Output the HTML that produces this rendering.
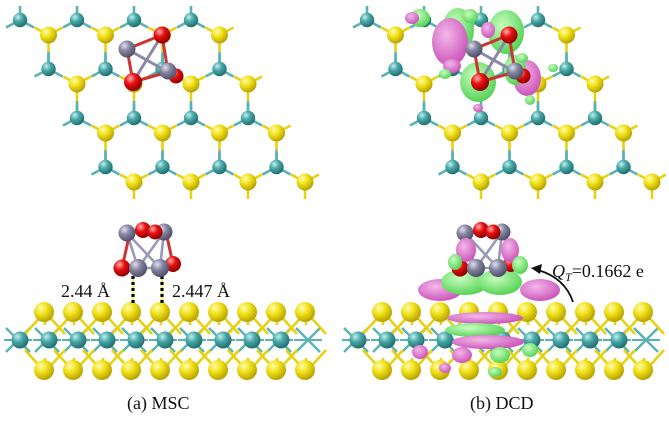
<!DOCTYPE html>
<html><head><meta charset="utf-8"><style>
html,body{margin:0;padding:0;background:#fff;}
svg{display:block;}
text{font-family:"Liberation Serif",serif;fill:#111;}
</style></head><body>
<svg id="s" width="669" height="422" viewBox="0 0 669 422" xmlns="http://www.w3.org/2000/svg">
<defs>
<radialGradient id="gy" cx="35%" cy="30%" r="70%"><stop offset="0" stop-color="#fffbb0"/><stop offset="0.45" stop-color="#f2e21a"/><stop offset="1" stop-color="#b9a400"/></radialGradient>
<radialGradient id="gc" cx="35%" cy="30%" r="70%"><stop offset="0" stop-color="#bff0ee"/><stop offset="0.45" stop-color="#4aa8a8"/><stop offset="1" stop-color="#22706f"/></radialGradient>
<radialGradient id="gr" cx="35%" cy="30%" r="70%"><stop offset="0" stop-color="#ffb0b0"/><stop offset="0.45" stop-color="#e80f0f"/><stop offset="1" stop-color="#900000"/></radialGradient>
<radialGradient id="gg" cx="35%" cy="30%" r="70%"><stop offset="0" stop-color="#e0e0f0"/><stop offset="0.45" stop-color="#8585a0"/><stop offset="1" stop-color="#50506a"/></radialGradient>
<radialGradient id="gm" cx="40%" cy="35%" r="70%"><stop offset="0" stop-color="#f4b8ea"/><stop offset="1" stop-color="#c84fb6"/></radialGradient>
<radialGradient id="gn" cx="40%" cy="35%" r="70%"><stop offset="0" stop-color="#c8ffc0"/><stop offset="1" stop-color="#4fcf4f"/></radialGradient>
</defs>
<g id="root"></g>
<text x="61" y="297" font-size="18">2.44 Å</text>
<text x="172" y="297" font-size="18">2.447 Å</text>
<text x="127" y="409" font-size="18">(a) MSC</text>
<text x="470" y="409" font-size="18">(b) DCD</text>
<text x="552" y="277" font-size="18"><tspan font-style="italic">Q</tspan><tspan font-style="italic" font-size="12" dy="4">T</tspan><tspan dy="-4">=0.1662 e</tspan></text>
<path d="M573,302 Q565,278 538,270" fill="none" stroke="#111" stroke-width="1.8"/>
<path d="M531,268 L542,264 L540,274 Z" fill="#111"/>
</svg>
<script>
var R=document.getElementById('root'),NS='http://www.w3.org/2000/svg';
function el(n,a,p){var e=document.createElementNS(NS,n);for(var k in a)e.setAttribute(k,a[k]);(p||R).appendChild(e);return e;}
function ln(x1,y1,x2,y2,c,w,p){el('line',{x1:x1,y1:y1,x2:x2,y2:y2,stroke:c,'stroke-width':w||2.6},p);}
function at(x,y,r,g,p){el('circle',{cx:x,cy:y,r:r,fill:'url(#'+g+')'},p);}
function blob(x,y,rx,ry,g,p){el('ellipse',{cx:x,cy:y,rx:rx,ry:ry,fill:'url(#'+g+')'},p);}
function topLat(ox){
 var bl=el('g',{}),ab=el('g',{});
 for(var k=0;k<4;k++)for(var m=-1;m<5;m++){
  var cx=ox+20+28.5*k+57*m,cy=20+49*k,yx=cx+28.5,yy=cy+15;
  var cin=(m>=0&&m<4);
  if(cin){ln(cx,cy,cx,cy-14,'#5ab3b3',2.6,bl);
   ln(cx,cy,cx+14,cy+7.5,'#5ab3b3',2.6,bl);ln(cx,cy,cx-14,cy+7.5,'#5ab3b3',2.6,bl);}
  if(m>=0&&m<4){ln(yx,yy,yx-14,yy-7.5,'#e6d210',2.6,bl);ln(yx,yy,yx+14,yy-7.5,'#e6d210',2.6,bl);ln(yx,yy,yx,yy+17,'#e6d210',2.6,bl);
   if(k<3){ln(yx,yy+17,yx,yy+35,'#5ab3b3',2.6,bl);}
   at(yx,yy,8.5,'gy',ab);}
  if(cin)at(cx,cy,7.2,'gc',ab);
 }
}
function sideLat(ox){
 var bl=el('g',{}),ab=el('g',{});
 for(var i=0;i<11;i++){var x=ox+18+29*i;
  ln(x-12,340-12,x+12,340+12,'#5ab3b3',2.4,bl);ln(x-12,340+12,x+12,340-12,'#5ab3b3',2.4,bl);
  ln(x-14,340,x+14,340,'#5ab3b3',2,bl);
 }
 for(var i=0;i<10;i++){var x=ox+45+29*i;
  ln(x,312,x-20,334,'#e6d210',2.6,bl);ln(x,312,x+20,334,'#e6d210',2.6,bl);ln(x,312,x,325,'#e6d210',2.6,bl);
  ln(x,372,x-20,350,'#e6d210',2.6,bl);ln(x,372,x+20,350,'#e6d210',2.6,bl);ln(x,372,x,358,'#e6d210',2.6,bl);
 }
 for(var i=0;i<10;i++){var x=ox+44+29*i;at(x,312,10,'gy',ab);}
 for(var i=0;i<10;i++){var x=ox+20+29*i;at(x,340,8.5,'gc',ab);}
 for(var i=0;i<10;i++){var x=ox+44+29*i;at(x,370,10,'gy',ab);}
}
function topCluster(ox){
 var g=el('g',{});
 ln(ox+127,49,ox+168,72,'#8a8aa8',3,g);ln(ox+127,49,ox+162,35,'#c33',3,g);ln(ox+127,49,ox+133,82,'#c33',3,g);
 ln(ox+162,35,ox+168,72,'#c33',3,g);ln(ox+133,82,ox+168,72,'#c33',3,g);ln(ox+162,35,ox+133,82,'#8a8aa8',3,g);
 at(ox+176,76,7.5,'gr',g);at(ox+127,49,8.5,'gg',g);at(ox+162,35,8.5,'gr',g);at(ox+168,71,8.5,'gg',g);at(ox+133,82,9,'gr',g);
}
function sideCluster(ox,dcd){
 var g=el('g',{});
 if(!dcd){
  el('line',{x1:ox+133,y1:276,x2:ox+133,y2:304,stroke:'#000','stroke-width':3.2,'stroke-dasharray':'3,3'},g);
  el('line',{x1:ox+133,y1:276,x2:ox+133,y2:304,stroke:'#ee2','stroke-width':1.6,'stroke-dasharray':'3,3','stroke-dashoffset':3},g);
  el('line',{x1:ox+162,y1:276,x2:ox+162,y2:304,stroke:'#000','stroke-width':3.2,'stroke-dasharray':'3,3'},g);
  el('line',{x1:ox+162,y1:276,x2:ox+162,y2:304,stroke:'#ee2','stroke-width':1.6,'stroke-dasharray':'3,3','stroke-dashoffset':3},g);
 }
 var P=[[127,233],[164,232],[138,268],[160,268]];
 for(var i=0;i<4;i++)for(var j=i+1;j<4;j++)ln(ox+P[i][0],P[i][1],ox+P[j][0],P[j][1],'#9a9ab8',2.6,g);
 ln(ox+122,268,ox+130,232,'#c33',3,g);ln(ox+173,264,ox+166,232,'#c33',3,g);
 at(ox+127,233,8.5,'gg',g);at(ox+164,232,8.5,'gg',g);at(ox+143,230,8,'gr',g);at(ox+155,232,7.5,'gr',g);
 at(ox+122,268,8.5,'gr',g);at(ox+173,264,8,'gr',g);at(ox+138,268,9,'gg',g);at(ox+160,268,9,'gg',g);
}
topLat(0);topCluster(0);sideLat(0);sideCluster(0,false);
topLat(347);
var bt=el('g',{});
blob(458,30,16,22,'gn',bt);blob(506,32,18,22,'gn',bt);blob(450,42,18,24,'gm',bt);
blob(478,82,18,20,'gn',bt);blob(527,78,14,18,'gm',bt);blob(515,70,11,15,'gn',bt);
blob(420,18,10,9,'gn',bt);blob(412,18,7,6,'gm',bt);blob(470,16,8,7,'gn',bt);blob(488,30,7,8,'gm',bt);
blob(452,66,9,7,'gm',bt);blob(445,74,6,5,'gn',bt);blob(530,100,5,5,'gn',bt);blob(478,108,5,4,'gm',bt);blob(522,58,6,5,'gn',bt);
blob(553,68,5,4,'gn',bt);
topCluster(347);
sideLat(338);
var bs=el('g',{});
blob(440,290,22,11,'gm',bs);blob(540,290,20,11,'gm',bs);
blob(465,282,24,13,'gn',bs);blob(500,282,22,13,'gn',bs);
blob(485,318,38,6,'gm',bs);blob(475,330,30,7,'gn',bs);blob(488,342,36,7,'gm',bs);
blob(462,355,10,8,'gm',bs);blob(500,355,10,8,'gn',bs);blob(420,352,8,7,'gm',bs);blob(530,350,8,7,'gn',bs);
blob(445,368,6,5,'gm',bs);blob(495,372,7,5,'gn',bs);
sideCluster(338,true);
var bc=el('g',{});
blob(466,250,10,12,'gm',bc);blob(510,250,9,12,'gm',bc);blob(520,265,8,9,'gn',bc);blob(455,262,7,8,'gn',bc);
</script>
</body></html>
